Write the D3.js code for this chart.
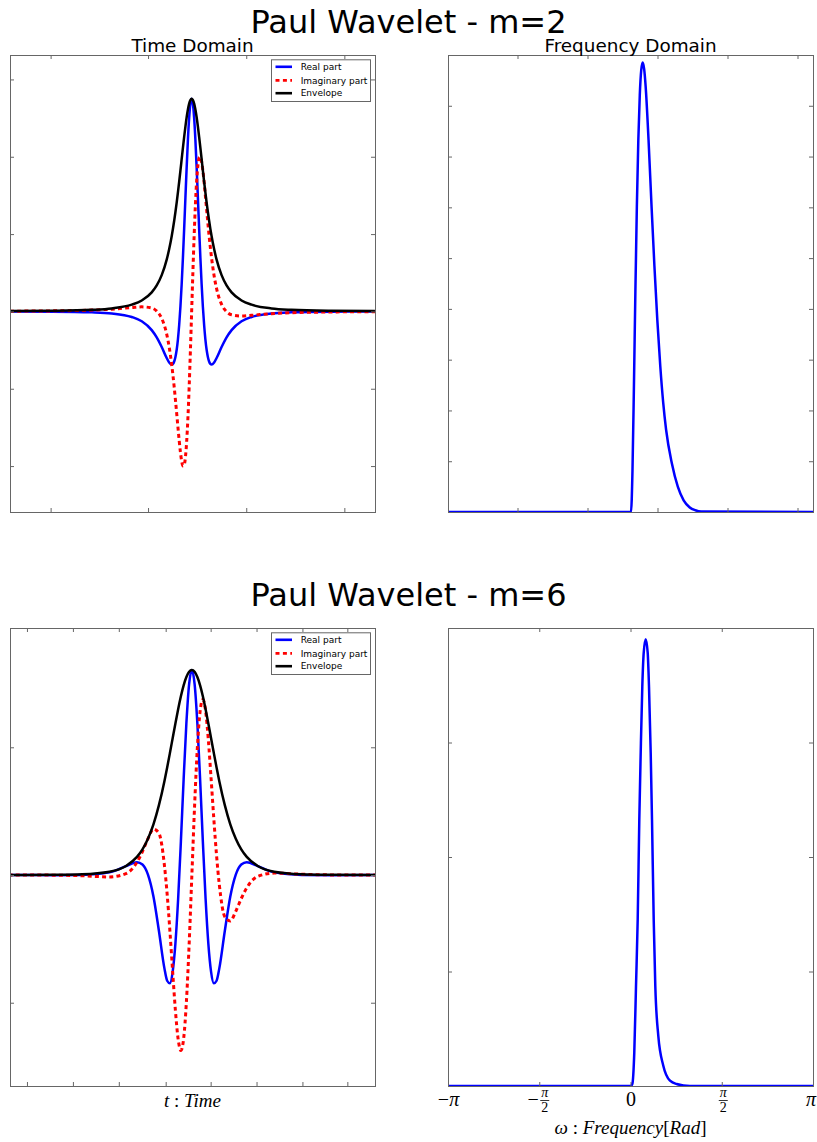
<!DOCTYPE html>
<html><head><meta charset="utf-8">
<script src="https://cdn.jsdelivr.net/npm/d3@7/dist/d3.min.js"></script>
<style>html,body{margin:0;padding:0;background:#fff;}svg{display:block;}</style>
</head><body>
<svg id="chart" width="817" height="1142" xmlns="http://www.w3.org/2000/svg"></svg>
<script>
// ---------------- data ----------------
const figureTitles = ["Paul Wavelet - m=2", "Paul Wavelet - m=6"];
const columnTitles = ["Time Domain", "Frequency Domain"];
const legendLabels = ["Real part", "Imaginary part", "Envelope"];

// m = 2, time domain
const time2 = [-9.1,-7,-5,-4,-3,-2.5,-2,-1.75,-1.5,-1.25,-1.125,-1,-0.9375,-0.875,-0.8125,-0.75,-0.6875,-0.625,-0.5625,-0.5,-0.4375,-0.375,-0.3125,-0.25,-0.1875,-0.125,-0.0625,0,0.0625,0.125,0.1875,0.25,0.3125,0.375,0.4375,0.5,0.5625,0.625,0.6875,0.75,0.8125,0.875,0.9375,1,1.125,1.25,1.5,1.75,2,2.5,3,4,5,7,9.18];
const real2 = [-0.001,-0.003,-0.012,-0.026,-0.072,-0.128,-0.242,-0.336,-0.461,-0.603,-0.661,-0.688,-0.679,-0.648,-0.589,-0.496,-0.360,-0.176,0.061,0.352,0.692,1.071,1.470,1.863,2.218,2.502,2.686,2.750,2.686,2.502,2.218,1.863,1.470,1.071,0.692,0.352,0.061,-0.176,-0.360,-0.496,-0.589,-0.648,-0.679,-0.688,-0.661,-0.603,-0.461,-0.336,-0.242,-0.128,-0.072,-0.026,-0.012,-0.003,-0.001];
const imag2 = [0.003,0.007,0.017,0.029,0.050,0.059,0.044,0.004,-0.090,-0.294,-0.461,-0.688,-0.824,-0.977,-1.143,-1.318,-1.496,-1.668,-1.820,-1.936,-1.998,-1.987,-1.886,-1.684,-1.378,-0.979,-0.509,0,0.509,0.979,1.378,1.684,1.886,1.987,1.998,1.936,1.820,1.668,1.496,1.318,1.143,0.977,0.824,0.688,0.461,0.294,0.090,-0.004,-0.044,-0.059,-0.050,-0.029,-0.017,-0.007,-0.003];
const env2 = [0.004,0.008,0.021,0.039,0.087,0.141,0.246,0.336,0.469,0.670,0.806,0.972,1.068,1.172,1.286,1.408,1.539,1.677,1.821,1.968,2.115,2.257,2.391,2.511,2.611,2.687,2.734,2.750,2.734,2.687,2.611,2.511,2.391,2.257,2.115,1.968,1.821,1.677,1.539,1.408,1.286,1.172,1.068,0.972,0.806,0.670,0.469,0.336,0.246,0.141,0.087,0.039,0.021,0.008,0.004];

// m = 6, time domain
const time6 = [-3.34,-2.5,-2,-1.5,-1.2,-1,-0.9,-0.8,-0.7,-0.6,-0.5,-0.45,-0.4,-0.35,-0.3,-0.25,-0.2,-0.15,-0.1,-0.05,0,0.05,0.1,0.15,0.2,0.25,0.3,0.35,0.4,0.45,0.5,0.6,0.7,0.8,0.9,1,1.2,1.5,2,2.5,3.34];
const real6 = [0,-0.001,0.001,0.021,0.070,0.100,0.082,0.003,-0.168,-0.438,-0.731,-0.828,-0.848,-0.758,-0.537,-0.186,0.263,0.749,1.188,1.495,1.605,1.495,1.188,0.749,0.263,-0.186,-0.537,-0.758,-0.848,-0.828,-0.731,-0.438,-0.168,0.003,0.082,0.100,0.070,0.021,0.001,-0.001,0];
const imag6 = [0,-0.001,-0.006,-0.015,0.011,0.100,0.184,0.284,0.360,0.327,0.076,-0.152,-0.439,-0.757,-1.059,-1.285,-1.374,-1.282,-0.996,-0.545,0,0.545,0.996,1.282,1.374,1.285,1.059,0.757,0.439,0.152,-0.076,-0.327,-0.360,-0.284,-0.184,-0.100,-0.011,0.015,0.006,0.001,0];
const env6 = [0,0.002,0.006,0.026,0.071,0.142,0.201,0.284,0.397,0.547,0.735,0.842,0.955,1.071,1.187,1.298,1.399,1.485,1.550,1.591,1.605,1.591,1.550,1.485,1.399,1.298,1.187,1.071,0.955,0.842,0.735,0.547,0.397,0.284,0.201,0.142,0.071,0.026,0.006,0.002,0];

// frequency domain
const omega2 = [-3.1416,0.0086,0.0338,0.0590,0.0841,0.1093,0.1345,0.1597,0.1848,0.2100,0.2352,0.2604,0.3107,0.3611,0.4114,0.4618,0.5121,0.5625,0.6128,0.7135,0.8142,0.9149,1.0156,1.1163,1.2170,3.1416];
const spectrum2 = [0,0,0.796,2.479,4.344,6.014,7.319,8.208,8.700,8.850,8.723,8.387,7.325,6.048,4.850,3.780,2.880,2.160,1.620,0.950,0.500,0.230,0.095,0.035,0.010,0];
const omega6 = [-3.1416,0.005,0.031,0.0654,0.0947,0.124,0.1515,0.1756,0.2031,0.2272,0.2617,0.2961,0.3185,0.3477,0.3701,0.3994,0.4269,0.4786,0.5646,0.680,0.795,1.024,3.1416];
const spectrum6 = [0,0,0.017,0.296,0.874,1.455,2.327,2.911,3.488,3.782,3.902,3.782,3.488,2.911,2.327,1.455,0.874,0.438,0.177,0.046,0.017,0,0];

// ticks
const timeTicks2 = [-7.065,-2.185,2.735,7.65];
const timeTicks6 = [-3.004,-2.167,-1.331,-0.477,0.342,1.178,2.014,2.832];
const ampTicks2 = [-2,-1,0,1,2,3];
const ampTicks6 = [-1,0,1];
const omegaTicks2 = [-1.945,-0.740,0.465,1.670,2.875];
const omegaTicks6 = [-Math.PI,-Math.PI/2,0,Math.PI/2,Math.PI];
const omegaTickLabels6 = [{sign:"−",num:"π",den:null},{sign:"−",num:"π",den:"2"},{sign:"",num:"0",den:null},{sign:"",num:"π",den:"2"},{sign:"",num:"π",den:null}];
const specTicks2 = [1,2,3,4,5,6,7,8];
const specTicks6 = [1,2,3];

// ---------------- drawing ----------------
const svg = d3.select("#chart");
const SANS = "'DejaVu Sans', sans-serif";
const SERIF = "'Liberation Serif', 'DejaVu Serif', serif";
const SPINE = "#666";

const colX = {left:[10,375], right:[448,813]};
const rowY = {top:[55,512], bottom:[628,1086]};

let clipId = 0;
function makePanel(xr, yr, xDomain, yDomain, xTicks, yTicks) {
  const xs = d3.scaleLinear().domain(xDomain).range(xr);
  const ys = d3.scaleLinear().domain(yDomain).range([yr[1], yr[0]]);
  const id = "clip" + (clipId++);
  svg.append("clipPath").attr("id", id).append("rect")
    .attr("x", xr[0]).attr("y", yr[0]).attr("width", xr[1]-xr[0]).attr("height", yr[1]-yr[0]);
  const g = svg.append("g");
  const plot = g.append("g").attr("clip-path", `url(#${id})`);
  const axes = [
    [d3.axisBottom(xs).tickValues(xTicks), `translate(0,${yr[1]})`],
    [d3.axisTop(xs).tickValues(xTicks), `translate(0,${yr[0]})`],
    [d3.axisLeft(ys).tickValues(yTicks), `translate(${xr[0]},0)`],
    [d3.axisRight(ys).tickValues(yTicks), `translate(${xr[1]},0)`]
  ];
  axes.forEach(([ax, tr]) => {
    const a = g.append("g").attr("transform", tr)
      .call(ax.tickSize(-4).tickSizeOuter(0).tickFormat(() => ""));
    a.select(".domain").remove();
    a.selectAll("line").attr("stroke", SPINE).attr("stroke-width", 1);
  });
  return {xs, ys, plot, g, xr, yr};
}
function frame(p) {
  p.g.append("rect").attr("x", p.xr[0]+0.5).attr("y", p.yr[0]+0.5)
    .attr("width", p.xr[1]-p.xr[0]).attr("height", p.yr[1]-p.yr[0])
    .attr("fill", "none").attr("stroke", SPINE).attr("stroke-width", 1);
}
function drawLine(p, xv, yv, color, width, dash) {
  const line = d3.line().x(d => p.xs(d[0])).y(d => p.ys(d[1])).curve(d3.curveMonotoneX);
  const path = p.plot.append("path").datum(d3.zip(xv, yv))
    .attr("d", line).attr("fill", "none").attr("stroke", color)
    .attr("stroke-width", width).attr("stroke-linejoin", "round");
  if (dash) path.attr("stroke-dasharray", dash);
}
const seriesStyle = [
  {color:"#0000ff", width:2.5, dash:null},
  {color:"#ff0000", width:3, dash:"4,3.2"},
  {color:"#000000", width:2.5, dash:null}
];
function legend(p) {
  const top = p.yr[0];
  const lx = 271.5;
  p.g.append("rect").attr("x", lx).attr("y", top + 4.8).attr("width", 99).attr("height", 41.7)
    .attr("fill", "#fff").attr("stroke", SPINE).attr("stroke-width", 1);
  const rowsY = [11.8, 25.3, 38.2];
  legendLabels.forEach((lab, i) => {
    const y = top + rowsY[i];
    const s = seriesStyle[i];
    const ln = p.g.append("line").attr("x1", 275.5).attr("x2", 292).attr("y1", y).attr("y2", y)
      .attr("stroke", s.color).attr("stroke-width", s.width === 3 ? 2.8 : 2.6);
    if (s.dash) ln.attr("stroke-dasharray", "4,3.4");
    p.g.append("text").attr("x", 300.7).attr("y", y + 3.2).text(lab)
      .attr("font-family", SANS).attr("font-size", 9).attr("fill", "#000");
  });
}
function timePanel(yrow, tDomain, aDomain, tTicks, aTicks, t, re, im, env) {
  const p = makePanel(colX.left, yrow, tDomain, aDomain, tTicks, aTicks);
  drawLine(p, t, re, seriesStyle[0].color, seriesStyle[0].width);
  drawLine(p, t, im, seriesStyle[1].color, seriesStyle[1].width, seriesStyle[1].dash);
  drawLine(p, t, env, seriesStyle[2].color, seriesStyle[2].width);
  frame(p);
  legend(p);
  return p;
}
function freqPanel(yrow, yDomain, wTicks, sTicks, w, s) {
  const p = makePanel(colX.right, yrow, [-Math.PI, Math.PI], yDomain, wTicks, sTicks);
  drawLine(p, w, s, "#0000ff", 2.5);
  frame(p);
  return p;
}

// row 1
const tl = timePanel(rowY.top, [-9.1, 9.185], [-2.594, 3.316], timeTicks2, ampTicks2, time2, real2, imag2, env2);
const tr = freqPanel(rowY.top, [0, 9], omegaTicks2, specTicks2, omega2, spectrum2);
// row 2
const bl = timePanel(rowY.bottom, [-3.313, 3.336], [-1.652, 1.934], timeTicks6, ampTicks6, time6, real6, imag6, env6);
const br = freqPanel(rowY.bottom, [0, 4], omegaTicks6, specTicks6, omega6, spectrum6);

// titles
[[figureTitles[0], 33], [figureTitles[1], 606]].forEach(([txt, y]) => {
  svg.append("text").attr("x", 408.5).attr("y", y).attr("text-anchor", "middle")
    .attr("font-family", SANS).attr("font-size", 32).attr("fill", "#000").text(txt);
});
[[columnTitles[0], (colX.left[0]+colX.left[1])/2], [columnTitles[1], (colX.right[0]+colX.right[1])/2]].forEach(([txt, x]) => {
  svg.append("text").attr("x", x).attr("y", 52).attr("text-anchor", "middle")
    .attr("font-family", SANS).attr("font-size", 18.4).attr("fill", "#000").text(txt);
});

// bottom-right tick labels
omegaTickLabels6.forEach((lab, i) => {
  const v = omegaTicks6[i];
  let cx = br.xs(v) + 0.5;
  const g = svg.append("g").attr("font-family", SERIF).attr("fill", "#000");
  if (!lab.den) {
    const t = g.append("text").attr("y", 1106).attr("font-size", 20);
    if (i === omegaTicks6.length - 1) t.attr("x", 816).attr("text-anchor", "end");
    else t.attr("x", cx).attr("text-anchor", "middle");
    if (lab.sign) t.append("tspan").text(lab.sign);
    t.append("tspan").attr("font-style", lab.num === "0" ? "normal" : "italic").text(lab.num);
  } else {
    const fx = lab.sign ? cx + 5 : cx + 1;
    if (lab.sign) g.append("text").attr("x", fx - 6).attr("y", 1106).attr("text-anchor", "end").attr("font-size", 20).text(lab.sign);
    g.append("text").attr("x", fx).attr("y", 1097).attr("text-anchor", "middle").attr("font-size", 14).attr("font-style", "italic").text(lab.num);
    g.append("line").attr("x1", fx - 4.5).attr("x2", fx + 4.5).attr("y1", 1100.5).attr("y2", 1100.5).attr("stroke", "#000").attr("stroke-width", 0.8);
    g.append("text").attr("x", fx).attr("y", 1112).attr("text-anchor", "middle").attr("font-size", 14).text(lab.den);
  }
});

// axis labels
const tlab = svg.append("text").attr("x", (colX.left[0]+colX.left[1])/2).attr("y", 1107)
  .attr("text-anchor", "middle").attr("font-family", SERIF).attr("font-size", 19).attr("fill", "#000");
tlab.append("tspan").attr("font-style", "italic").text("t");
tlab.append("tspan").text(" : ");
tlab.append("tspan").attr("font-style", "italic").text("Time");
const wlab = svg.append("text").attr("x", (colX.right[0]+colX.right[1])/2).attr("y", 1134)
  .attr("text-anchor", "middle").attr("font-family", SERIF).attr("font-size", 19).attr("fill", "#000");
wlab.append("tspan").attr("font-style", "italic").text("ω");
wlab.append("tspan").text(" : ");
wlab.append("tspan").attr("font-style", "italic").text("Frequency");
wlab.append("tspan").text("[");
wlab.append("tspan").attr("font-style", "italic").text("Rad");
wlab.append("tspan").text("]");
</script>
</body></html>
